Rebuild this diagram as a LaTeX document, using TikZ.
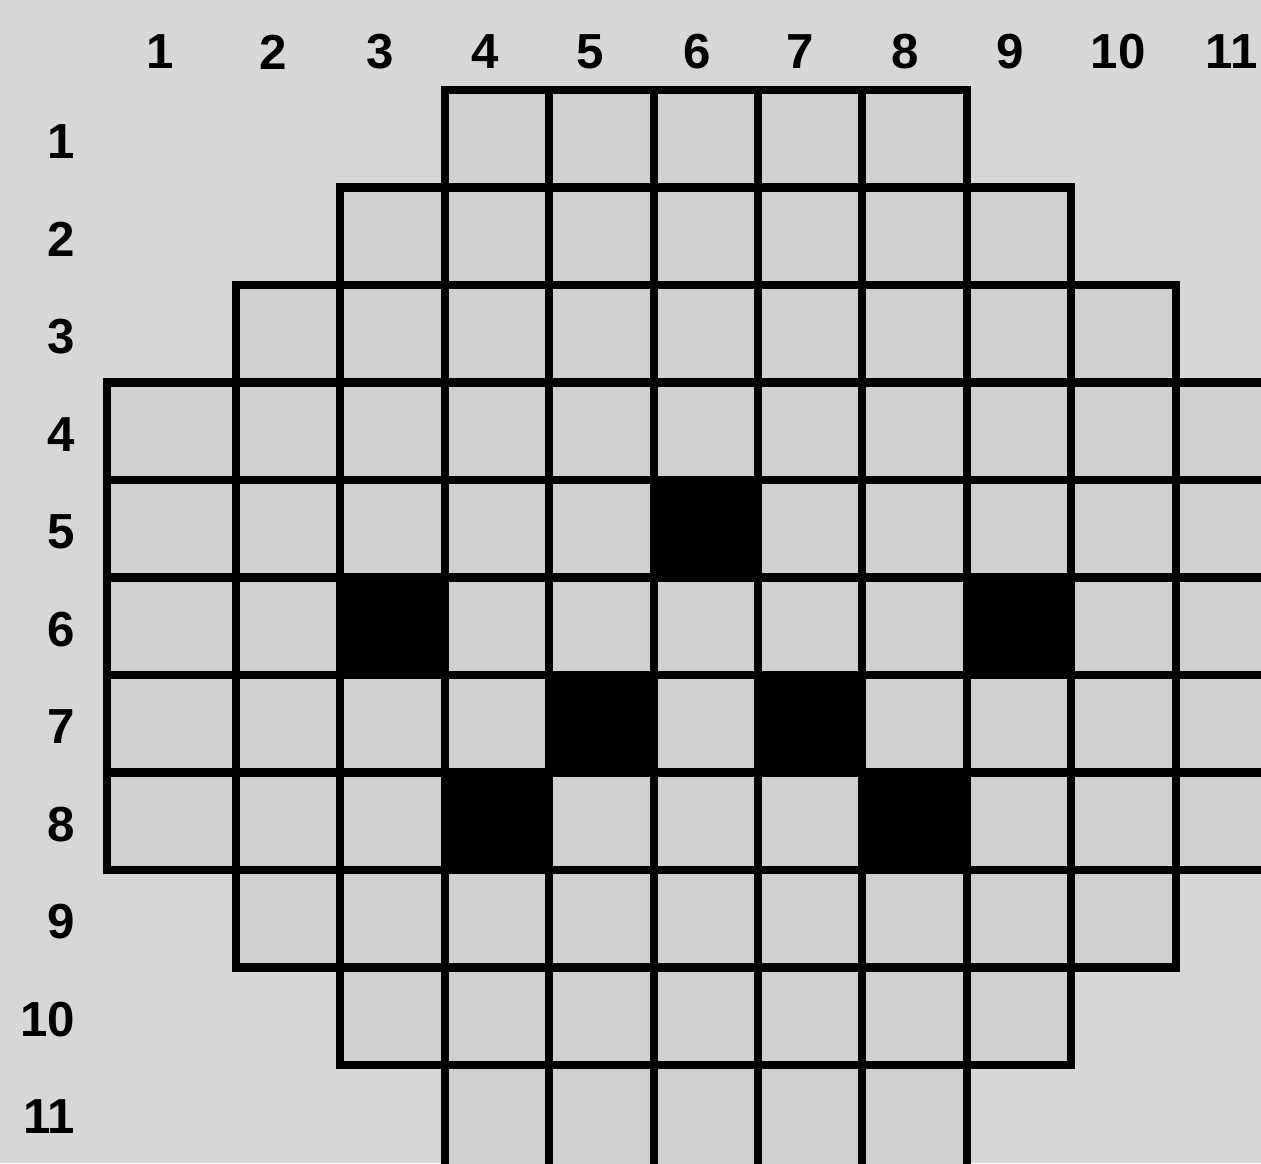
\documentclass[tikz,border=0pt]{standalone}
\usepackage{fontspec}
\setmainfont{Liberation Sans}
\usepackage{tikz}

\definecolor{paper}{HTML}{D7D7D7}
\definecolor{cellgray}{HTML}{D0D0D0}

\begin{document}
\begin{tikzpicture}[x=0.01cm,y=-0.01cm,
    sq/.style={draw=black,line width=2.3pt,fill=cellgray},
    blk/.style={draw=black,line width=2.3pt,fill=black},
    lab/.style={font=\bfseries\fontsize{14}{16}\selectfont,inner sep=0pt}]

    \useasboundingbox (0,0) rectangle (1261,1163);
    \clip (0,0) rectangle (1261,1163);
    \fill[paper] (0,0) rectangle (1261,1163);

    % rows: row/first column/last column
    \foreach \r/\a/\b in {1/4/8,2/3/9,3/2/10,4/1/11,5/1/11,6/1/11,7/1/11,8/1/11,9/2/10,10/3/9,11/4/8}
      \foreach \c in {\a,...,\b} {
        \pgfmathsetmacro{\xa}{\c==1 ? 107 : 236+(\c-2)*104.4}
        \pgfmathsetmacro{\xb}{236+(\c-1)*104.4}
        \pgfmathsetmacro{\ya}{90+(\r-1)*97.5}
        \pgfmathsetmacro{\yb}{\r==11 ? 1185 : 90+\r*97.5}
        \draw[sq] (\xa,\ya) rectangle (\xb,\yb);
      }

    % black squares: column/row
    \foreach \c/\r in {6/5,3/6,9/6,5/7,7/7,4/8,8/8} {
        \pgfmathsetmacro{\xa}{236+(\c-2)*104.4}
        \pgfmathsetmacro{\xb}{236+(\c-1)*104.4}
        \pgfmathsetmacro{\ya}{90+(\r-1)*97.5}
        \pgfmathsetmacro{\yb}{90+\r*97.5}
        \draw[blk] (\xa,\ya) rectangle (\xb,\yb);
    }

    % column numbers
    \foreach \n/\x in {1/160,2/273,3/380,4/485,5/590,6/697,7/800,8/905,9/1010,10/1118,11/1232}
        \node[lab] (col\n) at (\x,52) {\n};

    % row numbers
    \foreach \n in {1,...,11} {
        \pgfmathsetmacro{\y}{90+(\n-0.5)*97.5+3}
        \node[lab,anchor=east] (row\n) at (76,\y) {\n};
    }
\end{tikzpicture}
\end{document}
